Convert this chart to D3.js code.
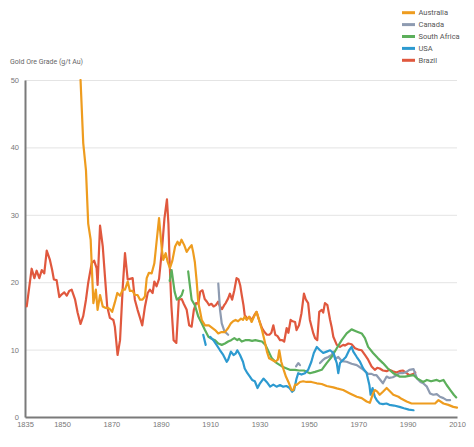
<!DOCTYPE html>
<html><head><meta charset="utf-8">
<script src="https://cdn.jsdelivr.net/npm/d3@7"></script>
<style>
body{margin:0;background:#fff;}
svg{display:block;font-family:Roboto,"Open Sans",sans-serif;}
</style></head>
<body><svg id="chart" width="474" height="447"></svg>
<script>
const xTicks = [1835,1850,1870,1890,1910,1930,1950,1970,1990,2010];
const yTicks = [0,10,20,30,40,50];
const seriesNames = ["Australia","Canada","South Africa","USA","Brazil"];
const seriesColors = ["#EE9C1F","#8E9BB1","#5CAF5B","#2D9AD0","#E0583E"];

const australia = [[1857.5,50],[1858.6,40.6],[1859.7,36.6],[1860.6,28.7],[1861.6,26.3],[1862.0,22.8],[1862.7,16.9],[1863.7,18.9],[1864.4,15.9],[1865.4,18.1],[1866.5,16.4],[1867.5,16.2],[1868.5,16.2],[1869.4,16.0],[1870.3,15.6],[1871.4,17.0],[1872.4,18.4],[1873.5,18.0],[1874.6,18.9],[1875.5,18.9],[1876.6,20.1],[1877.5,18.7],[1878.6,18.7],[1879.5,18.1],[1880.6,18.1],[1881.6,17.4],[1882.6,17.4],[1883.6,17.9],[1884.3,20.6],[1885.2,21.4],[1886.3,21.3],[1887.4,22.8],[1888.3,26.0],[1889.3,29.5],[1890.4,25.0],[1891.0,23.3],[1892.0,24.3],[1892.8,23.0],[1893.7,22.1],[1894.7,23.2],[1895.8,25.3],[1896.8,26.0],[1897.6,25.5],[1898.4,26.3],[1899.5,25.5],[1900.5,24.5],[1901.4,25.0],[1902.5,25.5],[1903.1,24.5],[1903.8,23.0],[1904.5,20.3],[1905.2,17.0],[1905.8,15.9],[1906.6,14.4],[1907.9,13.6],[1909.5,13.6],[1912.0,12.9],[1913.3,12.4],[1914.6,12.6],[1916.0,12.6],[1917.3,13.2],[1918.4,13.9],[1919.3,14.2],[1920.3,14.4],[1921.3,14.2],[1922.5,14.6],[1923.3,14.4],[1924.0,14.9],[1924.8,14.4],[1925.8,14.9],[1926.8,14.1],[1927.8,14.9],[1928.8,15.6],[1929.8,14.4],[1931.0,12.9],[1932.0,11.4],[1933.0,9.7],[1933.9,8.7],[1935.0,8.5],[1936.4,8.2],[1937.4,8.5],[1938.0,9.9],[1938.8,8.2],[1939.8,7.0],[1940.7,6.0],[1941.7,5.2],[1943.0,4.0],[1943.7,4.0],[1944.4,4.8],[1945.0,4.75],[1946.4,5.2],[1947.7,5.3],[1949.0,5.2],[1951.0,5.2],[1953.2,5.0],[1955.2,4.9],[1957.2,4.6],[1959.9,4.4],[1961.3,4.25],[1963.9,4.0],[1966.6,3.5],[1969.4,3.0],[1971.4,2.8],[1973.4,2.3],[1974.7,2.1],[1976.0,3.5],[1976.7,4.0],[1977.6,3.8],[1978.7,3.3],[1980.0,3.75],[1981.5,4.3],[1982.6,3.9],[1984.2,3.3],[1986.3,3.0],[1987.5,2.7],[1989.6,2.3],[1991.6,2.0],[1994.0,2.0],[1996.3,2.0],[1999.0,2.0],[2001.1,2.0],[2002.5,2.5],[2004.5,2.0],[2006.5,1.8],[2008.5,1.5],[2010.0,1.4]];

const canada = [[1913.3,19.8],[1914.0,15.9],[1914.7,13.9],[1915.8,12.7],[1917.3,12.2],[1918,null],[1944.8,7.5],[1945.7,8.0],[1946.4,7.7],[1947,null],[1954.5,8.0],[1955.5,8.4],[1956.5,8.7],[1957.9,8.9],[1959.2,9.2],[1959.9,9.7],[1960.6,8.6],[1961.9,8.9],[1963.3,8.3],[1965.3,8.2],[1967.3,7.9],[1969.4,7.7],[1971.4,7.2],[1972.7,6.8],[1974.0,6.4],[1975.4,6.4],[1976.5,6.2],[1977.4,6.2],[1978.7,5.6],[1980.0,5.0],[1981.5,6.0],[1982.6,5.8],[1984.0,5.9],[1985.5,6.2],[1986.7,6.5],[1988.0,6.5],[1989.6,6.7],[1990.7,7.0],[1992.4,7.1],[1993.1,6.4],[1993.8,5.7],[1995.2,5.2],[1996.3,5.0],[1997.8,4.5],[1999.1,3.5],[2000.4,3.3],[2001.8,3.4],[2003.1,3.0],[2004.5,2.8],[2005.8,2.5],[2007.2,2.5]];

const southAfrica = [[1893.6,20.2],[1894.4,21.8],[1895.6,18.6],[1896.5,17.4],[1897.6,17.7],[1898.5,18.1],[1899.1,18.8],[1900,null],[1901.1,21.6],[1901.8,19.5],[1902.5,17.4],[1903.8,16.6],[1905.2,14.9],[1906.6,13.9],[1907.9,12.9],[1909.3,11.9],[1910.6,11.6],[1912.0,11.4],[1913.3,10.9],[1914.7,10.7],[1916.0,10.9],[1917.3,11.2],[1918.5,11.4],[1919.8,11.7],[1921.0,11.4],[1921.7,11.6],[1922.8,11.2],[1924.2,11.4],[1925.8,11.4],[1927.0,11.3],[1928.3,11.4],[1929.6,11.3],[1931.0,11.2],[1932.4,10.7],[1933.7,9.7],[1935.0,8.7],[1937.0,8.0],[1939.1,7.5],[1941.0,7.2],[1942.3,7.0],[1944.4,7.0],[1946.0,6.9],[1948.0,6.9],[1950.4,6.5],[1952.5,6.7],[1955.2,7.0],[1957.2,8.0],[1959.2,8.9],[1961.3,10.2],[1963.3,11.4],[1965.3,12.4],[1967.3,13.0],[1969.3,12.7],[1971.4,12.4],[1972.7,11.7],[1974.0,10.4],[1976.0,9.5],[1978.0,8.7],[1980.0,8.0],[1982.0,7.2],[1984.2,6.5],[1986.7,6.0],[1989.0,6.0],[1990.5,6.1],[1992.4,6.2],[1994.0,5.7],[1996.3,5.2],[1997.8,5.5],[1999.5,5.3],[2001.8,5.5],[2003.0,5.3],[2004.5,5.5],[2005.8,4.75],[2007.3,4.0],[2008.7,3.3],[2009.7,2.9]];

const usa = [[1907.2,12.2],[1908.2,10.7],[1909,null],[1910.0,11.9],[1911.3,11.4],[1912.6,10.7],[1914.0,9.9],[1915.3,9.2],[1916.7,8.2],[1917.3,8.5],[1918.4,9.7],[1919.5,9.2],[1920.3,9.4],[1921.0,9.9],[1922.1,9.2],[1923.3,8.2],[1924.0,7.2],[1925.1,6.5],[1926.1,6.0],[1927.0,5.5],[1928.1,5.3],[1929.2,4.3],[1930.2,5.0],[1931.6,5.7],[1932.9,5.2],[1934.3,4.5],[1935.6,4.8],[1936.9,4.5],[1938.3,4.75],[1939.6,4.5],[1940.9,4.6],[1942.2,4.3],[1943.2,3.75],[1944.0,4.0],[1945.0,5.7],[1945.7,6.5],[1947.0,6.3],[1948.4,6.5],[1949.7,7.0],[1951.0,8.2],[1952.0,9.5],[1953.2,10.4],[1954.5,9.9],[1955.8,9.5],[1957.2,9.7],[1958.6,9.9],[1959.9,9.5],[1961.3,8.0],[1961.9,6.5],[1962.6,8.0],[1963.9,8.5],[1965.0,8.9],[1966.3,9.9],[1967.3,10.4],[1968.0,9.7],[1969.4,8.9],[1970.7,8.2],[1972.0,7.2],[1973.4,6.5],[1974.5,4.75],[1975.0,3.3],[1975.8,4.3],[1976.7,3.0],[1977.5,2.5],[1978.7,2.0],[1980.0,1.9],[1981.4,2.0],[1982.6,1.8],[1984.5,1.7],[1986.7,1.5],[1988.5,1.3],[1990.5,1.1],[1992.4,1.0]];

const brazil = [[1835.7,16.4],[1837.7,22.0],[1838.8,20.6],[1839.7,21.7],[1840.8,20.6],[1841.8,21.8],[1842.8,21.3],[1843.8,24.7],[1845.1,23.3],[1846.0,21.8],[1846.7,20.4],[1847.8,20.3],[1848.9,17.8],[1849.9,18.2],[1850.9,18.5],[1851.9,18.0],[1852.9,18.7],[1853.9,18.9],[1855.3,17.4],[1856.3,15.5],[1857.5,13.8],[1858.6,15.0],[1859.7,17.4],[1860.6,19.9],[1862.0,22.8],[1863.0,23.2],[1864.0,22.1],[1864.4,19.6],[1865.4,28.4],[1866.5,25.3],[1867.4,20.8],[1868.3,16.4],[1869.4,14.7],[1870.8,14.4],[1871.4,13.4],[1872.5,9.2],[1873.5,11.4],[1874.6,19.3],[1875.5,24.3],[1876.6,20.4],[1877.5,20.5],[1878.6,20.6],[1879.5,17.4],[1880.6,15.9],[1881.6,14.7],[1882.5,13.6],[1883.6,16.4],[1884.7,18.4],[1885.6,18.9],[1886.7,18.4],[1887.4,20.1],[1888.3,19.4],[1889.3,20.5],[1890.4,24.5],[1891.5,29.5],[1892.5,32.3],[1893.1,28.7],[1893.5,23.8],[1894.3,16.5],[1895.2,11.4],[1896.3,11.0],[1897.3,17.4],[1898.5,17.5],[1899.3,16.8],[1900.5,15.9],[1901.5,13.6],[1902.5,13.4],[1903.4,15.9],[1904.3,16.9],[1905.2,16.8],[1906.0,18.6],[1906.9,18.8],[1907.8,17.5],[1908.7,17.1],[1909.6,16.6],[1910.5,16.8],[1911.4,16.4],[1912.3,16.6],[1913.2,17.1],[1914.0,16.4],[1914.8,16.0],[1915.7,16.6],[1916.3,16.9],[1917.3,17.6],[1918.0,18.3],[1918.9,17.4],[1919.8,18.8],[1920.7,20.6],[1921.5,20.4],[1922.2,19.5],[1922.8,18.1],[1923.5,16.6],[1924.0,15.1],[1925.1,14.6],[1926.0,14.8],[1926.9,14.4],[1927.9,15.1],[1928.8,15.6],[1929.8,14.4],[1931.0,13.2],[1932.0,12.6],[1933.0,12.2],[1934.0,12.2],[1934.8,12.5],[1935.6,13.6],[1936.4,12.2],[1937.3,12.0],[1938.3,11.4],[1939.2,11.4],[1940.0,11.2],[1941.0,13.2],[1941.7,12.5],[1942.6,14.4],[1943.4,14.2],[1944.4,14.1],[1945.0,12.9],[1946.0,13.6],[1947.0,15.4],[1948.0,18.3],[1948.8,17.4],[1949.7,16.9],[1950.4,14.4],[1951.8,12.4],[1952.5,11.7],[1953.4,11.4],[1954.2,15.6],[1955.2,15.9],[1955.8,15.5],[1956.5,16.9],[1957.5,16.6],[1958.6,14.4],[1959.2,13.4],[1959.9,11.9],[1961.3,10.7],[1962.6,10.4],[1963.9,10.7],[1964.6,10.6],[1966.0,10.9],[1967.3,10.8],[1968.7,10.2],[1970.0,10.0],[1971.4,9.9],[1972.7,9.2],[1974.0,8.5],[1975.4,7.5],[1976.7,7.0],[1977.7,7.3],[1978.7,7.2],[1980.0,6.9],[1981.5,6.8],[1982.6,7.0],[1984.0,6.8],[1985.5,6.6],[1986.7,6.8],[1988.0,6.9],[1989.3,6.6],[1990.7,6.2],[1992.4,6.4],[1993.1,6.6]];

const allSeries = [australia, canada, southAfrica, usa, brazil];
const drawOrder = [4, 1, 2, 3, 0]; // Brazil at back, Australia on top

const svg = d3.select("#chart");
const m = {left:25, right:17, top:80, bottom:30};
const W = 474, H = 447;
const x = d3.scaleLinear().domain([1835,2010]).range([m.left, W - m.right]);
const y = d3.scaleLinear().domain([0,50]).range([H - m.bottom, m.top]);

// gridlines
svg.append("g")
  .attr("transform", `translate(${m.left},0)`)
  .call(d3.axisLeft(y).tickValues(yTicks.slice(1)).tickSize(-(W - m.right - m.left)).tickFormat(""))
  .call(g => g.select(".domain").remove())
  .call(g => g.selectAll("line").attr("stroke","#e4e4e4").attr("stroke-width",1));

// y axis
const yAxis = svg.append("g")
  .attr("transform", `translate(${m.left},0)`)
  .call(d3.axisLeft(y).tickValues(yTicks).tickSize(0).tickPadding(6).tickFormat(d3.format("d")));
yAxis.select(".domain").attr("stroke","#7a7a7a").attr("stroke-width",2);
yAxis.selectAll("text").attr("fill","#777").style("font-size","7.5px");

// x axis
const xAxis = svg.append("g")
  .attr("transform", `translate(0,${H - m.bottom})`)
  .call(d3.axisBottom(x).tickValues(xTicks).tickSize(0).tickPadding(5).tickFormat(d3.format("d")));
xAxis.select(".domain").attr("stroke","#7a7a7a").attr("stroke-width",2);
xAxis.selectAll("text").attr("fill","#777").style("font-size","7.5px");

// title
svg.append("text").attr("x", 10).attr("y", 64)
  .attr("fill","#666").style("font-size","7px")
  .text("Gold Ore Grade (g/t Au)");

svg.append("clipPath").attr("id","plotclip").append("rect")
  .attr("x", m.left).attr("y", m.top - 1).attr("width", W - m.left - m.right + 2).attr("height", H - m.top - m.bottom);

const line = d3.line()
  .defined(d => d[1] !== null)
  .x(d => x(d[0])).y(d => y(d[1]))
  .curve(d3.curveLinear);

const lines = svg.append("g").attr("clip-path","url(#plotclip)");
drawOrder.forEach(i => {
  lines.append("path")
    .datum(allSeries[i])
    .attr("fill","none")
    .attr("stroke", seriesColors[i])
    .attr("stroke-width", 2.2)
    .attr("stroke-linejoin","round")
    .attr("stroke-linecap","round")
    .attr("d", line);
});

// legend
const legend = svg.append("g");
seriesNames.forEach((name, i) => {
  const ly = 12.7 + i * 11.9;
  legend.append("line").attr("x1", 402).attr("x2", 415).attr("y1", ly).attr("y2", ly)
    .attr("stroke", seriesColors[i]).attr("stroke-width", 3);
  legend.append("text").attr("x", 418.5).attr("y", ly).attr("dy","0.35em")
    .attr("fill","#555").style("font-size","7.5px").text(name);
});
</script></body></html>
